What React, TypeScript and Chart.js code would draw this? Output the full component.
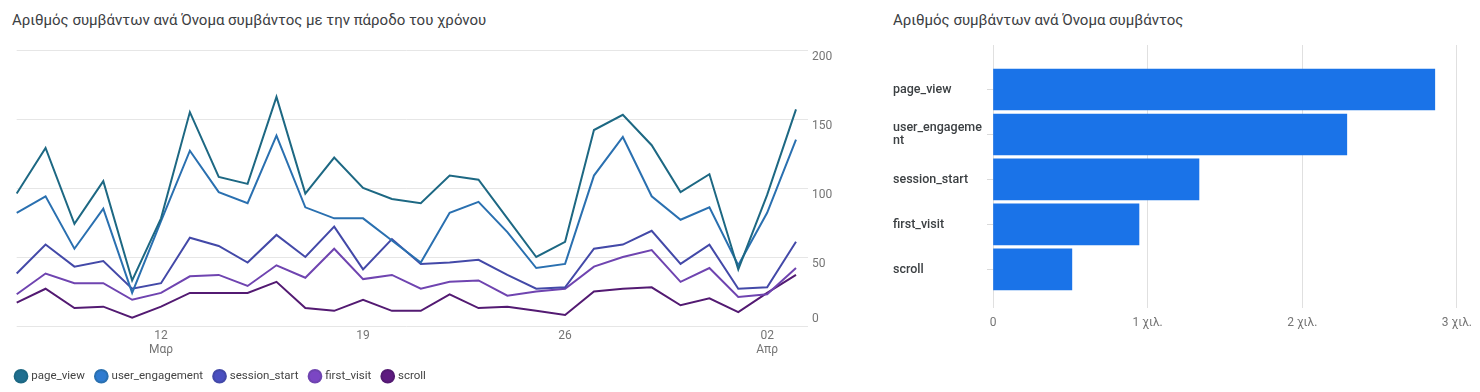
import React, { useEffect, useRef } from 'react';
import { Chart, registerables } from 'chart.js';
Chart.register(...registerables);

// ---- Data ----
const dayLabels = ['07','08','09','10','11','12','13','14','15','16','17','18','19','20','21','22','23','24','25','26','27','28','29','30','31','01','02','03'];
const shownTickIdx = [5, 12, 19, 26];
const monthLabels: Record<number, string> = { 5: 'Μαρ', 26: 'Απρ' };

const seriesNames = ['page_view', 'user_engagement', 'session_start', 'first_visit', 'scroll'];
const pageView = [96,129,74,105,33,78,155,108,103,166,96,122,100,92,89,109,106,78,50,61,142,153,131,97,110,41,95,157];
const userEngagement = [82,94,56,85,24,76,127,97,89,138,86,78,78,62,46,82,90,68,42,45,109,137,94,77,86,44,82,135];
const sessionStart = [38,59,43,47,27,31,64,58,46,66,50,72,41,63,45,46,48,37,27,28,56,59,69,45,59,27,28,61];
const firstVisit = [23,38,31,31,19,24,36,37,29,44,35,56,34,37,27,32,33,22,25,27,43,50,55,32,42,21,23,42];
const scroll = [17,27,13,14,6,14,24,24,24,32,13,11,19,11,11,23,13,14,11,8,25,27,28,15,20,10,24,37];
const lineTickValues = [0, 50, 100, 150, 200];

const barTickLabels = [['page_view'], ['user_engageme', 'nt'], ['session_start'], ['first_visit'], ['scroll']];
const barValues = [2857, 2288, 1332, 944, 510];
const barTickValues = [0, 1000, 2000, 3000];

const legendColors = ['#1f6e8f', '#2e7bd0', '#4a4fc0', '#7b46c4', '#5e1a80'];
const lineColors = ['#1d6883', '#2a70b0', '#4349a8', '#6f44b0', '#531a72'];
const barColor = '#1a73e8';

const leftTitle = 'Αριθμός συμβάντων ανά Όνομα συμβάντος με την πάροδο του χρόνου';
const rightTitle = 'Αριθμός συμβάντων ανά Όνομα συμβάντος';

const FONT = 'Roboto, "Noto Sans", sans-serif';

function LineChart() {
  const ref = useRef<HTMLCanvasElement>(null);
  useEffect(() => {
    const series = [pageView, userEngagement, sessionStart, firstVisit, scroll];
    const chart = new Chart(ref.current!, {
      type: 'line',
      data: {
        labels: dayLabels,
        datasets: series.map((d, i) => ({
          label: seriesNames[i],
          data: d,
          borderColor: lineColors[i],
          backgroundColor: legendColors[i],
          borderWidth: 2,
          pointRadius: 0,
          tension: 0,
        })),
      },
      options: {
        animation: false,
        responsive: false,
        maintainAspectRatio: false,
        layout: { padding: { left: 4.5, right: 15, top: 50, bottom: 0 } },
        plugins: {
          legend: {
            position: 'bottom',
            align: 'start',
            labels: {
              usePointStyle: true,
              pointStyle: 'circle',
              boxWidth: 9,
              boxHeight: 9,
              color: '#444',
              font: { family: FONT, size: 11.5 },
              padding: 12,
            },
          },
          tooltip: { enabled: false },
        },
        scales: {
          x: {
            grid: { display: false, drawTicks: false },
            border: { display: false },
            afterFit: (s: any) => { s.height = 32.5; },
            ticks: {
              autoSkip: false,
              maxRotation: 0,
              padding: 3,
              color: '#757575',
              font: { family: FONT, size: 12, lineHeight: 1.15 },
              callback: (_v: any, i: number) =>
                shownTickIdx.includes(i)
                  ? (monthLabels[i] ? [dayLabels[i], monthLabels[i]] : dayLabels[i])
                  : '',
            },
          },
          y: {
            position: 'right',
            min: 0,
            max: 200,
            afterBuildTicks: (s: any) => { s.ticks = lineTickValues.map((v) => ({ value: v })); },
            afterFit: (s: any) => { s.width = 49; },
            ticks: {
              padding: 4,
              color: '#757575',
              font: { family: FONT, size: 12 },
              callback: (v: any) => (v === 0 ? ['0', ''] : ['', String(v)]),
            },
            grid: { color: '#e6e6e6', tickLength: 12 },
            border: { display: false },
          },
          spacer: {
            type: 'linear',
            position: 'left',
            display: true,
            grid: { display: false },
            border: { display: false },
            ticks: { display: false },
            afterFit: (s: any) => { s.width = 12.2; },
          },
        },
      } as any,
    });
    return () => chart.destroy();
  }, []);
  return <canvas ref={ref} width={860} height={392} style={{ position: 'absolute', left: 0, top: 0 }} />;
}

function BarChart() {
  const ref = useRef<HTMLCanvasElement>(null);
  useEffect(() => {
    const chart = new Chart(ref.current!, {
      type: 'bar',
      data: {
        datasets: [{
          label: 'events',
          data: barValues.map((v, i) => ({ x: v, y: i })),
          backgroundColor: barColor,
          barThickness: 41,
        }],
      },
      options: {
        indexAxis: 'y',
        animation: false,
        responsive: false,
        maintainAspectRatio: false,
        layout: { padding: { left: 13, right: 23, top: 45, bottom: 54 } },
        plugins: { legend: { display: false }, tooltip: { enabled: false } },
        scales: {
          x: {
            type: 'linear',
            min: 0,
            max: 3000,
            afterBuildTicks: (s: any) => { s.ticks = barTickValues.map((v) => ({ value: v })); },
            ticks: {
              padding: 8,
              color: '#757575',
              font: { family: FONT, size: 12 },
              callback: (v: any) => (v === 0 ? '0' : `${v / 1000} χιλ.`),
            },
            grid: { color: '#e0e0e0', drawTicks: false },
            border: { display: false },
          },
          y: {
            type: 'linear',
            reverse: true,
            offset: false,
            min: -0.99,
            max: 4.85,
            afterBuildTicks: (s: any) => { s.ticks = barTickLabels.map((_l, i) => ({ value: i })); },
            afterFit: (s: any) => { s.width = 100; },
            ticks: {
              crossAlign: 'far',
              color: '#3c4043',
              font: { family: FONT, size: 12.5, weight: '500', lineHeight: 1.1 },
              callback: (v: any) => barTickLabels[v] ?? '',
            },
            grid: { offset: false, drawOnChartArea: false, tickLength: 6, color: '#dadada' },
            border: { display: false },
          },
        },
      } as any,
    });
    return () => chart.destroy();
  }, []);
  return <canvas ref={ref} width={600} height={392} style={{ position: 'absolute', left: 880, top: 0 }} />;
}

export default function App() {
  const titleStyle: React.CSSProperties = {
    position: 'absolute',
    top: 11,
    fontFamily: FONT,
    fontSize: 15,
    color: '#3c4043',
    whiteSpace: 'nowrap',
    lineHeight: '18px',
  };
  return (
    <div style={{ position: 'absolute', left: 0, top: 0, width: 1480, height: 392, background: '#fff', overflow: 'hidden' }}>
      <div style={{ ...titleStyle, left: 12 }}>{leftTitle}</div>
      <div style={{ ...titleStyle, left: 893 }}>{rightTitle}</div>
      <LineChart />
      <BarChart />
    </div>
  );
}
